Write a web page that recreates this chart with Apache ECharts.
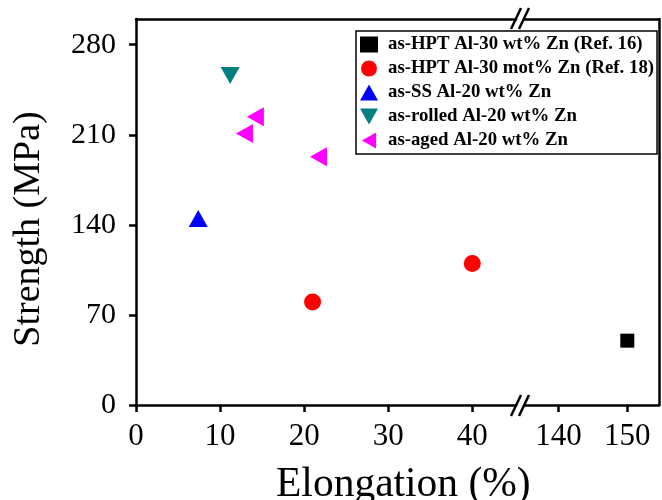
<!DOCTYPE html>
<html>
<head>
<meta charset="utf-8">
<script src="https://cdn.jsdelivr.net/npm/echarts@6/dist/echarts.min.js"></script>
<style>html,body{margin:0;padding:0;background:#fff}#c{width:662px;height:500px}</style>
</head>
<body>
<div id="c"></div>
<script>
// ---- data ----
const xTicksLeft = [0, 10, 20, 30, 40];
const xTicksRight = [140, 150];
const yTicks = [0, 70, 140, 210, 280];
const seriesNames = [
  'as-HPT Al-30 wt% Zn (Ref. 16)',
  'as-HPT Al-30 mot% Zn (Ref. 18)',
  'as-SS Al-20 wt% Zn',
  'as-rolled Al-20 wt% Zn',
  'as-aged Al-20 wt% Zn'
];
const hptRef16 = [[150, 50]];
const hptRef18 = [[21, 80], [40, 110]];
const ssAl20 = [[7.4, 145]];
const rolledAl20 = [[11.2, 256]];
const agedAl20 = [[14.2, 224], [12.9, 211], [21.7, 193]];

const FONT = 'Liberation Serif';
const LW = 2.5;
const DOWN_TRI = 'path://M0,0 L18,0 L9,16 Z';
const LEFT_TRI = 'path://M16,0 L16,18 L0,9 Z';

const chart = echarts.init(document.getElementById('c'), null, {renderer: 'canvas'});

function xAxisBase(gridIndex, min, max, ticks, pos, show) {
  return {
    type: 'value', gridIndex, min, max, position: pos,
    splitLine: {show: false},
    axisLine: {show: true, onZero: false, lineStyle: {color: '#000', width: LW}},
    axisTick: {show: show, inside: false, length: 7, customValues: ticks, lineStyle: {color: '#000', width: LW}},
    axisLabel: {show: show, customValues: ticks, margin: 16, color: '#000', fontFamily: FONT, fontSize: 31}
  };
}

const option = {
  backgroundColor: '#fff',
  animation: false,
  title: {
    text: 'Elongation (%)', left: 271, top: 459,
    textStyle: {fontFamily: FONT, fontSize: 41.5, fontWeight: 'normal', color: '#000'}
  },
  grid: [
    {left: 136, right: 146, top: 19, bottom: 95},
    {left: 524, right: 3, top: 19, bottom: 95}
  ],
  xAxis: [
    xAxisBase(0, 0, 45.2, xTicksLeft, 'bottom', true),
    xAxisBase(0, 0, 45.2, xTicksLeft, 'top', false),
    xAxisBase(1, 135, 154.6, xTicksRight, 'bottom', true),
    xAxisBase(1, 135, 154.6, xTicksRight, 'top', false)
  ],
  yAxis: [
    {
      type: 'value', gridIndex: 0, min: 0, max: 300, position: 'left',
      name: 'Strength (MPa)', nameLocation: 'middle', nameGap: 88,
      nameTextStyle: {fontFamily: FONT, fontSize: 38, color: '#000', padding: [0, 34, 0, 0]},
      splitLine: {show: false},
      axisLine: {show: true, onZero: false, lineStyle: {color: '#000', width: LW}},
      axisTick: {show: true, length: 7, customValues: yTicks, lineStyle: {color: '#000', width: LW}},
      axisLabel: {customValues: yTicks, margin: 20, color: '#000', fontFamily: FONT, fontSize: 30}
    },
    {
      type: 'value', gridIndex: 1, min: 0, max: 300, position: 'right',
      splitLine: {show: false},
      axisLine: {show: true, onZero: false, lineStyle: {color: '#000', width: LW}},
      axisTick: {show: false}, axisLabel: {show: false}
    }
  ],
  legend: {
    orient: 'vertical', left: 356, top: 31,
    data: [
      {name: seriesNames[0]},
      {name: seriesNames[1]},
      {name: seriesNames[2]},
      {name: seriesNames[3], icon: DOWN_TRI},
      {name: seriesNames[4], icon: LEFT_TRI}
    ],
    borderColor: '#000', borderWidth: 1.5, borderRadius: 0,
    padding: [4, 3, 4, 4],
    itemGap: 5, itemWidth: 18, itemHeight: 16,
    textStyle: {fontFamily: FONT, fontWeight: 'bold', fontSize: 18.8, color: '#000', padding: [0, 0, 0, 5]}
  },
  series: [
    {name: seriesNames[0], type: 'scatter', xAxisIndex: 2, yAxisIndex: 1, data: hptRef16,
      symbol: 'rect', symbolSize: 14, itemStyle: {color: '#000', opacity: 1}},
    {name: seriesNames[1], type: 'scatter', xAxisIndex: 0, yAxisIndex: 0, data: hptRef18,
      symbol: 'circle', symbolSize: 17, itemStyle: {color: '#ff0000', opacity: 1}},
    {name: seriesNames[2], type: 'scatter', xAxisIndex: 0, yAxisIndex: 0, data: ssAl20,
      symbol: 'triangle', symbolSize: [19, 17], itemStyle: {color: '#0000ff', opacity: 1}},
    {name: seriesNames[3], type: 'scatter', xAxisIndex: 0, yAxisIndex: 0, data: rolledAl20,
      symbol: 'triangle', symbolRotate: 180, symbolSize: [19, 17], itemStyle: {color: '#008080', opacity: 1}},
    {name: seriesNames[4], type: 'scatter', xAxisIndex: 0, yAxisIndex: 0, data: agedAl20,
      symbol: 'triangle', symbolRotate: 90, symbolSize: [19, 17], itemStyle: {color: '#ff00ff', opacity: 1}}
  ],
  graphic: [
    {type: 'line', shape: {x1: 511, y1: 29, x2: 521, y2: 8}, style: {stroke: '#000', lineWidth: LW}, z: 100},
    {type: 'line', shape: {x1: 519, y1: 29, x2: 529, y2: 8}, style: {stroke: '#000', lineWidth: LW}, z: 100},
    {type: 'line', shape: {x1: 511, y1: 416, x2: 521, y2: 395}, style: {stroke: '#000', lineWidth: LW}, z: 100},
    {type: 'line', shape: {x1: 519, y1: 416, x2: 529, y2: 395}, style: {stroke: '#000', lineWidth: LW}, z: 100}
  ]
};
chart.setOption(option);
</script>
</body>
</html>
